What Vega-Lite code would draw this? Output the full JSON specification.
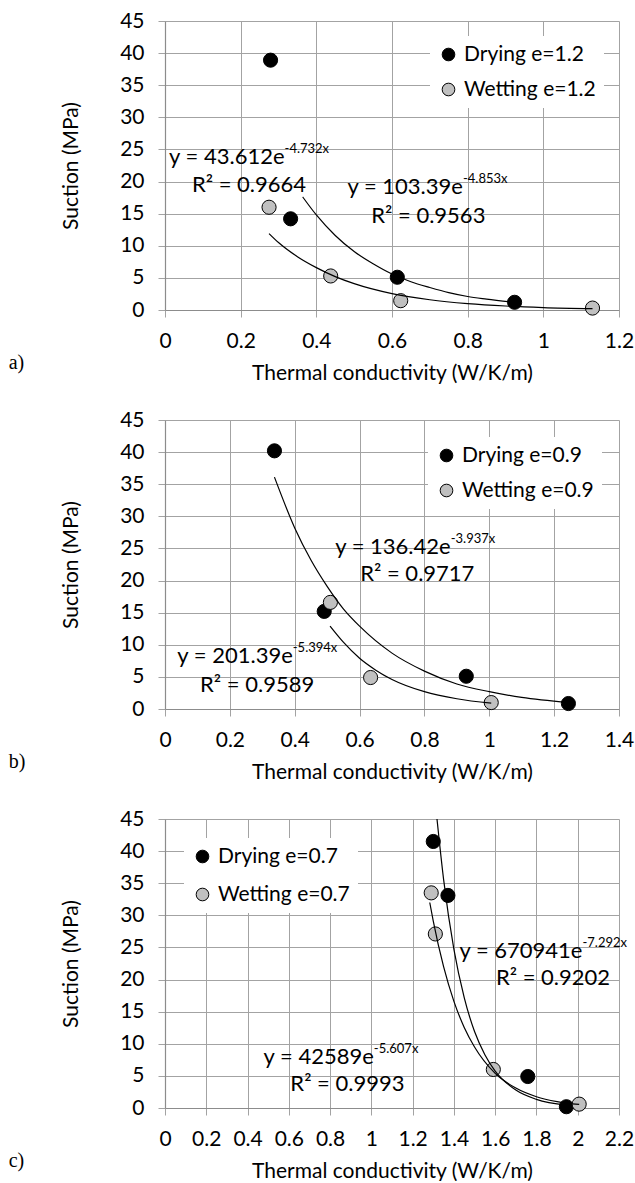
{
  "$schema": "https://vega.github.io/schema/vega-lite/v6.json",
  "padding": {"left": 8, "top": 10, "right": 5, "bottom": 0},
  "spacing": 26,
  "datasets": {
    "pts": [
      {"panel": "a", "s": "Drying e=1.2", "x": 0.279, "y": 38.9},
      {"panel": "a", "s": "Drying e=1.2", "x": 0.332, "y": 14.2},
      {"panel": "a", "s": "Drying e=1.2", "x": 0.614, "y": 5.1},
      {"panel": "a", "s": "Drying e=1.2", "x": 0.924, "y": 1.2},
      {"panel": "a", "s": "Wetting e=1.2", "x": 0.275, "y": 16.0},
      {"panel": "a", "s": "Wetting e=1.2", "x": 0.438, "y": 5.3},
      {"panel": "a", "s": "Wetting e=1.2", "x": 0.623, "y": 1.45},
      {"panel": "a", "s": "Wetting e=1.2", "x": 1.13, "y": 0.3},
      {"panel": "b", "s": "Drying e=0.9", "x": 0.3375, "y": 40.2},
      {"panel": "b", "s": "Drying e=0.9", "x": 0.491, "y": 15.2},
      {"panel": "b", "s": "Drying e=0.9", "x": 0.929, "y": 5.1},
      {"panel": "b", "s": "Drying e=0.9", "x": 1.244, "y": 0.85},
      {"panel": "b", "s": "Wetting e=0.9", "x": 0.51, "y": 16.6},
      {"panel": "b", "s": "Wetting e=0.9", "x": 0.634, "y": 4.9},
      {"panel": "b", "s": "Wetting e=0.9", "x": 1.006, "y": 1.0},
      {"panel": "c", "s": "Drying e=0.7", "x": 1.3, "y": 41.5},
      {"panel": "c", "s": "Drying e=0.7", "x": 1.371, "y": 33.1},
      {"panel": "c", "s": "Drying e=0.7", "x": 1.758, "y": 4.9},
      {"panel": "c", "s": "Drying e=0.7", "x": 1.945, "y": 0.2},
      {"panel": "c", "s": "Wetting e=0.7", "x": 1.29, "y": 33.5},
      {"panel": "c", "s": "Wetting e=0.7", "x": 1.31, "y": 27.1},
      {"panel": "c", "s": "Wetting e=0.7", "x": 1.591, "y": 6.0},
      {"panel": "c", "s": "Wetting e=0.7", "x": 2.007, "y": 0.6}
    ],
    "fit": [
      {"panel": "a", "s": "Drying", "x": 0.364, "y": 17.6},
      {"panel": "a", "s": "Drying", "x": 0.4, "y": 14.8},
      {"panel": "a", "s": "Drying", "x": 0.45, "y": 11.6},
      {"panel": "a", "s": "Drying", "x": 0.5, "y": 9.1},
      {"panel": "a", "s": "Drying", "x": 0.55, "y": 7.2},
      {"panel": "a", "s": "Drying", "x": 0.6, "y": 5.6},
      {"panel": "a", "s": "Drying", "x": 0.65, "y": 4.4},
      {"panel": "a", "s": "Drying", "x": 0.7, "y": 3.5},
      {"panel": "a", "s": "Drying", "x": 0.75, "y": 2.7},
      {"panel": "a", "s": "Drying", "x": 0.8, "y": 2.1},
      {"panel": "a", "s": "Drying", "x": 0.85, "y": 1.7},
      {"panel": "a", "s": "Drying", "x": 0.924, "y": 1.2},
      {"panel": "a", "s": "Wetting", "x": 0.275, "y": 11.9},
      {"panel": "a", "s": "Wetting", "x": 0.3, "y": 10.5},
      {"panel": "a", "s": "Wetting", "x": 0.35, "y": 8.3},
      {"panel": "a", "s": "Wetting", "x": 0.4, "y": 6.6},
      {"panel": "a", "s": "Wetting", "x": 0.45, "y": 5.2},
      {"panel": "a", "s": "Wetting", "x": 0.5, "y": 4.1},
      {"panel": "a", "s": "Wetting", "x": 0.6, "y": 2.55},
      {"panel": "a", "s": "Wetting", "x": 0.7, "y": 1.6},
      {"panel": "a", "s": "Wetting", "x": 0.8, "y": 1.0},
      {"panel": "a", "s": "Wetting", "x": 0.9, "y": 0.62},
      {"panel": "a", "s": "Wetting", "x": 1.0, "y": 0.38},
      {"panel": "a", "s": "Wetting", "x": 1.13, "y": 0.21},
      {"panel": "b", "s": "Drying", "x": 0.3375, "y": 36.1},
      {"panel": "b", "s": "Drying", "x": 0.4, "y": 28.2},
      {"panel": "b", "s": "Drying", "x": 0.45, "y": 23.2},
      {"panel": "b", "s": "Drying", "x": 0.5, "y": 19.1},
      {"panel": "b", "s": "Drying", "x": 0.55, "y": 15.6},
      {"panel": "b", "s": "Drying", "x": 0.6, "y": 12.9},
      {"panel": "b", "s": "Drying", "x": 0.7, "y": 8.7},
      {"panel": "b", "s": "Drying", "x": 0.8, "y": 5.9},
      {"panel": "b", "s": "Drying", "x": 0.9, "y": 3.9},
      {"panel": "b", "s": "Drying", "x": 1.0, "y": 2.7},
      {"panel": "b", "s": "Drying", "x": 1.1, "y": 1.8},
      {"panel": "b", "s": "Drying", "x": 1.244, "y": 1.0},
      {"panel": "b", "s": "Wetting", "x": 0.509, "y": 12.9},
      {"panel": "b", "s": "Wetting", "x": 0.55, "y": 10.4},
      {"panel": "b", "s": "Wetting", "x": 0.6, "y": 7.9},
      {"panel": "b", "s": "Wetting", "x": 0.65, "y": 6.05},
      {"panel": "b", "s": "Wetting", "x": 0.7, "y": 4.6},
      {"panel": "b", "s": "Wetting", "x": 0.8, "y": 2.7},
      {"panel": "b", "s": "Wetting", "x": 0.9, "y": 1.6},
      {"panel": "b", "s": "Wetting", "x": 1.006, "y": 0.9},
      {"panel": "c", "s": "Drying", "x": 1.318, "y": 45},
      {"panel": "c", "s": "Drying", "x": 1.35, "y": 35.6},
      {"panel": "c", "s": "Drying", "x": 1.4, "y": 24.7},
      {"panel": "c", "s": "Drying", "x": 1.45, "y": 17.2},
      {"panel": "c", "s": "Drying", "x": 1.5, "y": 11.9},
      {"panel": "c", "s": "Drying", "x": 1.55, "y": 8.3},
      {"panel": "c", "s": "Drying", "x": 1.6, "y": 5.75},
      {"panel": "c", "s": "Drying", "x": 1.7, "y": 2.8},
      {"panel": "c", "s": "Drying", "x": 1.8, "y": 1.35},
      {"panel": "c", "s": "Drying", "x": 1.945, "y": 0.46},
      {"panel": "c", "s": "Wetting", "x": 1.283, "y": 32.0},
      {"panel": "c", "s": "Wetting", "x": 1.3, "y": 29.1},
      {"panel": "c", "s": "Wetting", "x": 1.35, "y": 22.0},
      {"panel": "c", "s": "Wetting", "x": 1.4, "y": 16.6},
      {"panel": "c", "s": "Wetting", "x": 1.45, "y": 12.55},
      {"panel": "c", "s": "Wetting", "x": 1.5, "y": 9.5},
      {"panel": "c", "s": "Wetting", "x": 1.6, "y": 5.4},
      {"panel": "c", "s": "Wetting", "x": 1.7, "y": 3.1},
      {"panel": "c", "s": "Wetting", "x": 1.8, "y": 1.76},
      {"panel": "c", "s": "Wetting", "x": 1.9, "y": 1.0},
      {"panel": "c", "s": "Wetting", "x": 2.007, "y": 0.55}
    ],
    "eq": [
      {"panel": "a", "kind": "eq", "x": 0.316, "y": 23.9, "t": "y = 43.612e", "sup": "-4.732x"},
      {"panel": "a", "kind": "r2", "x": 0.222, "y": 19.5, "t": "R² = 0.9664"},
      {"panel": "a", "kind": "eq", "x": 0.7875, "y": 19.2, "t": "y = 103.39e", "sup": "-4.853x"},
      {"panel": "a", "kind": "r2", "x": 0.696, "y": 14.6, "t": "R² = 0.9563"},
      {"panel": "b", "kind": "eq", "x": 0.881, "y": 25.3, "t": "y = 136.42e", "sup": "-3.937x"},
      {"panel": "b", "kind": "r2", "x": 0.778, "y": 21.0, "t": "R² = 0.9717"},
      {"panel": "b", "kind": "eq", "x": 0.394, "y": 8.2, "t": "y = 201.39e", "sup": "-5.394x"},
      {"panel": "b", "kind": "r2", "x": 0.284, "y": 3.7, "t": "R² = 0.9589"},
      {"panel": "c", "kind": "eq", "x": 2.023, "y": 24.4, "t": "y = 670941e", "sup": "-7.292x"},
      {"panel": "c", "kind": "r2", "x": 1.88, "y": 20.2, "t": "R² = 0.9202"},
      {"panel": "c", "kind": "eq", "x": 1.012, "y": 8.0, "t": "y = 42589e", "sup": "-5.607x"},
      {"panel": "c", "kind": "r2", "x": 0.884, "y": 3.7, "t": "R² = 0.9993"}
    ]
  },
  "resolve": {
    "scale": {"x": "independent", "y": "independent", "color": "independent"},
    "axis": {"x": "independent", "y": "independent"},
    "legend": {"color": "independent"}
  },
  "config": {
    "font": "Lato",
    "view": {"stroke": null},
    "axis": {
      "labelFont": "Lato", "titleFont": "Lato", "labelFontSize": 21, "titleFontSize": 21,
      "titleFontWeight": "normal", "labelColor": "#000", "titleColor": "#000",
      "gridColor": "#a3a3a3", "gridWidth": 1, "tickColor": "#a3a3a3", "tickSize": 7,
      "domainColor": "#8c8c8c", "domainWidth": 1.2, "labelFlush": false, "labelOverlap": false
    },
    "axisX": {"labelPadding": 13, "titlePadding": 11},
    "axisY": {"labelPadding": 14, "titlePadding": 38},
    "legend": {
      "labelFont": "Lato", "labelFontSize": 21, "labelColor": "#000", "symbolType": "circle",
      "symbolSize": 160, "symbolStrokeColor": "#000", "symbolStrokeWidth": 1, "symbolOpacity": 1,
      "fillColor": "#ffffff", "padding": 8, "rowPadding": 13, "labelOffset": 5, "offset": 15, "title": null
    },
    "text": {"font": "Lato", "color": "#000"}
  },
  "vconcat": [
    {
      "width": 454, "height": 289,
      "title": {"text": "a)", "orient": "bottom", "anchor": "start", "frame": "bounds", "font": "Liberation Serif", "fontSize": 20, "fontWeight": "normal", "color": "#000", "dx": -52, "dy": -30, "offset": 0},
      "encoding": {
        "x": {"field": "x", "type": "quantitative", "scale": {"domain": [0, 1.2], "nice": false, "zero": false}, "axis": {"values": [0, 0.2, 0.4, 0.6, 0.8, 1, 1.2], "format": "~g", "title": "Thermal conductivity (W/K/m)"}},
        "y": {"field": "y", "type": "quantitative", "scale": {"domain": [0, 45], "nice": false}, "axis": {"values": [0, 5, 10, 15, 20, 25, 30, 35, 40, 45], "title": "Suction (MPa)"}}
      },
      "layer": [
        {"data": {"name": "pts"}, "transform": [{"filter": "datum.panel === 'a'"}],
         "mark": {"type": "circle", "size": 200, "opacity": 1, "stroke": "#000", "strokeWidth": 1},
         "encoding": {"color": {"field": "s", "type": "nominal", "scale": {"domain": ["Drying e=1.2", "Wetting e=1.2"], "range": ["#000000", "#c0c0c0"]}, "legend": {"orient": "top-right"}}}},
        {"data": {"name": "fit"}, "transform": [{"filter": "datum.panel === 'a'"}],
         "mark": {"type": "line", "color": "#000", "strokeWidth": 1.2, "interpolate": "monotone", "clip": true},
         "encoding": {"detail": {"field": "s"}}},
        {"data": {"name": "eq"}, "transform": [{"filter": "datum.panel === 'a' && datum.kind === 'eq'"}],
         "mark": {"type": "text", "align": "right", "baseline": "middle", "fontSize": 22},
         "encoding": {"text": {"field": "t"}}},
        {"data": {"name": "eq"}, "transform": [{"filter": "datum.panel === 'a' && datum.kind === 'eq'"}],
         "mark": {"type": "text", "align": "left", "baseline": "middle", "fontSize": 13, "dy": -8},
         "encoding": {"text": {"field": "sup"}}},
        {"data": {"name": "eq"}, "transform": [{"filter": "datum.panel === 'a' && datum.kind === 'r2'"}],
         "mark": {"type": "text", "align": "center", "baseline": "middle", "fontSize": 22},
         "encoding": {"text": {"field": "t"}}}
      ]
    },
    {
      "width": 454, "height": 289,
      "title": {"text": "b)", "orient": "bottom", "anchor": "start", "frame": "bounds", "font": "Liberation Serif", "fontSize": 20, "fontWeight": "normal", "color": "#000", "dx": -52, "dy": -30, "offset": 0},
      "encoding": {
        "x": {"field": "x", "type": "quantitative", "scale": {"domain": [0, 1.4], "nice": false, "zero": false}, "axis": {"values": [0, 0.2, 0.4, 0.6, 0.8, 1, 1.2, 1.4], "format": "~g", "title": "Thermal conductivity (W/K/m)"}},
        "y": {"field": "y", "type": "quantitative", "scale": {"domain": [0, 45], "nice": false}, "axis": {"values": [0, 5, 10, 15, 20, 25, 30, 35, 40, 45], "title": "Suction (MPa)"}}
      },
      "layer": [
        {"data": {"name": "pts"}, "transform": [{"filter": "datum.panel === 'b'"}],
         "mark": {"type": "circle", "size": 200, "opacity": 1, "stroke": "#000", "strokeWidth": 1},
         "encoding": {"color": {"field": "s", "type": "nominal", "scale": {"domain": ["Drying e=0.9", "Wetting e=0.9"], "range": ["#000000", "#c0c0c0"]}, "legend": {"orient": "top-right", "offset": 17}}}},
        {"data": {"name": "fit"}, "transform": [{"filter": "datum.panel === 'b'"}],
         "mark": {"type": "line", "color": "#000", "strokeWidth": 1.2, "interpolate": "monotone", "clip": true},
         "encoding": {"detail": {"field": "s"}}},
        {"data": {"name": "eq"}, "transform": [{"filter": "datum.panel === 'b' && datum.kind === 'eq'"}],
         "mark": {"type": "text", "align": "right", "baseline": "middle", "fontSize": 22},
         "encoding": {"text": {"field": "t"}}},
        {"data": {"name": "eq"}, "transform": [{"filter": "datum.panel === 'b' && datum.kind === 'eq'"}],
         "mark": {"type": "text", "align": "left", "baseline": "middle", "fontSize": 13, "dy": -8},
         "encoding": {"text": {"field": "sup"}}},
        {"data": {"name": "eq"}, "transform": [{"filter": "datum.panel === 'b' && datum.kind === 'r2'"}],
         "mark": {"type": "text", "align": "center", "baseline": "middle", "fontSize": 22},
         "encoding": {"text": {"field": "t"}}}
      ]
    },
    {
      "width": 454, "height": 289,
      "title": {"text": "c)", "orient": "bottom", "anchor": "start", "frame": "bounds", "font": "Liberation Serif", "fontSize": 20, "fontWeight": "normal", "color": "#000", "dx": -52, "dy": -30, "offset": 0},
      "encoding": {
        "x": {"field": "x", "type": "quantitative", "scale": {"domain": [0, 2.2], "nice": false, "zero": false}, "axis": {"values": [0, 0.2, 0.4, 0.6, 0.8, 1, 1.2, 1.4, 1.6, 1.8, 2, 2.2], "format": "~g", "title": "Thermal conductivity (W/K/m)"}},
        "y": {"field": "y", "type": "quantitative", "scale": {"domain": [0, 45], "nice": false}, "axis": {"values": [0, 5, 10, 15, 20, 25, 30, 35, 40, 45], "title": "Suction (MPa)"}}
      },
      "layer": [
        {"data": {"name": "pts"}, "transform": [{"filter": "datum.panel === 'c'"}],
         "mark": {"type": "circle", "size": 200, "opacity": 1, "stroke": "#000", "strokeWidth": 1},
         "encoding": {"color": {"field": "s", "type": "nominal", "scale": {"domain": ["Drying e=0.7", "Wetting e=0.7"], "range": ["#000000", "#c0c0c0"]}, "legend": {"orient": "top-left", "offset": 19, "rowPadding": 16}}}},
        {"data": {"name": "fit"}, "transform": [{"filter": "datum.panel === 'c'"}],
         "mark": {"type": "line", "color": "#000", "strokeWidth": 1.2, "interpolate": "monotone", "clip": true},
         "encoding": {"detail": {"field": "s"}}},
        {"data": {"name": "eq"}, "transform": [{"filter": "datum.panel === 'c' && datum.kind === 'eq'"}],
         "mark": {"type": "text", "align": "right", "baseline": "middle", "fontSize": 22},
         "encoding": {"text": {"field": "t"}}},
        {"data": {"name": "eq"}, "transform": [{"filter": "datum.panel === 'c' && datum.kind === 'eq'"}],
         "mark": {"type": "text", "align": "left", "baseline": "middle", "fontSize": 13, "dy": -8},
         "encoding": {"text": {"field": "sup"}}},
        {"data": {"name": "eq"}, "transform": [{"filter": "datum.panel === 'c' && datum.kind === 'r2'"}],
         "mark": {"type": "text", "align": "center", "baseline": "middle", "fontSize": 22},
         "encoding": {"text": {"field": "t"}}}
      ]
    }
  ]
}
